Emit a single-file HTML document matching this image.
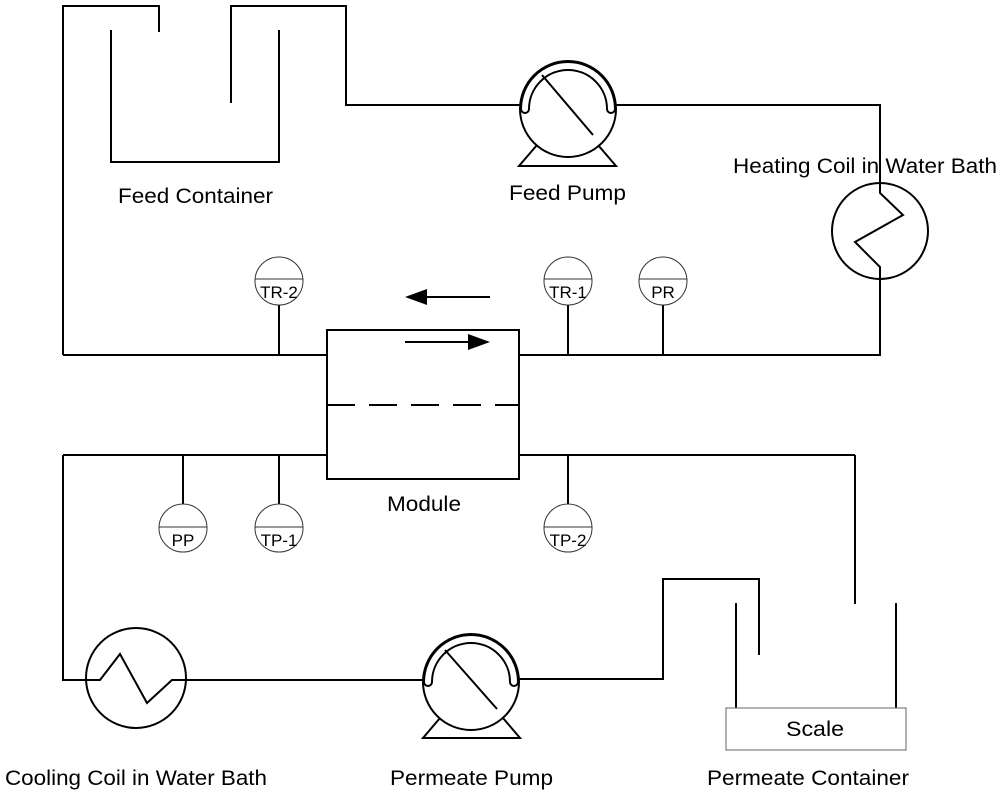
<!DOCTYPE html>
<html><head><meta charset="utf-8"><style>body{margin:0;background:#fff}svg{display:block}</style></head>
<body>
<svg width="1000" height="794" viewBox="0 0 1000 794" xmlns="http://www.w3.org/2000/svg">
<g fill="none" stroke="#000" stroke-width="2">
<polyline points="63,355 63,6 159,6 159,32"/>
<polyline points="111,30 111,162 279,162 279,30"/>
<polyline points="231,103 231,6 346,6 346,105 520,105"/>
<circle cx="568" cy="109" r="48"/>
<path d="M521,109 A47,47 0 0 1 615,109 A4,4 0 0 1 607,109 A39,39 0 0 0 529,109 A4,4 0 0 1 521,109 Z" />
<line x1="542" y1="75" x2="593" y2="135"/>
<polyline points="537,145 519,166 616,166 598,145"/>
<polyline points="616,105 880,105 880,193 903,215 855,242 880,267 880,355 519,355"/>
<circle cx="880" cy="231" r="48"/>
<rect x="327" y="330" width="192" height="149"/>
<line x1="327" y1="405" x2="519" y2="405" stroke-dasharray="28,14"/>
<line x1="63" y1="355" x2="327" y2="355"/>
<line x1="327" y1="455" x2="63" y2="455"/>
<line x1="519" y1="455" x2="855" y2="455"/>
<line x1="855" y1="455" x2="855" y2="604"/>
<line x1="425" y1="297" x2="490" y2="297"/>
<line x1="405" y1="342" x2="470" y2="342"/>
<polyline points="63,455 63,680 100,680 120,654 147,703 172,680 423,680"/>
<circle cx="136" cy="678" r="50"/>
<circle cx="471" cy="682" r="48"/>
<path d="M424,682 A47,47 0 0 1 518,682 A4,4 0 0 1 510,682 A39,39 0 0 0 432,682 A4,4 0 0 1 424,682 Z"/>
<line x1="445" y1="650" x2="497" y2="709"/>
<polyline points="440,718 423,738 520,738 503,718"/>
<polyline points="519,679 663,679 663,579 759,579 759,655"/>
<line x1="736" y1="603" x2="736" y2="708"/>
<line x1="896" y1="603" x2="896" y2="708"/>
<line x1="279" y1="305" x2="279" y2="355"/>
<line x1="568" y1="305" x2="568" y2="355"/>
<line x1="663" y1="305" x2="663" y2="355"/>
<line x1="183" y1="455" x2="183" y2="504"/>
<line x1="279" y1="455" x2="279" y2="504"/>
<line x1="568" y1="455" x2="568" y2="504"/>
</g>
<polygon points="405,297 427,289 427,305" fill="#000"/>
<polygon points="490,342 468,334 468,350" fill="#000"/>
<rect x="726" y="708" width="180" height="42" fill="#fff" stroke="#666" stroke-width="1"/>
<g fill="#fff" stroke="#333" stroke-width="1">
<circle cx="279" cy="281" r="24"/><circle cx="568" cy="281" r="24"/><circle cx="663" cy="281" r="24"/>
<circle cx="183" cy="528" r="24"/><circle cx="279" cy="528" r="24"/><circle cx="568" cy="528" r="24"/>
</g>
<g stroke="#333" stroke-width="1">
<line x1="255" y1="279" x2="303" y2="279"/><line x1="544" y1="279" x2="592" y2="279"/><line x1="639" y1="279" x2="687" y2="279"/>
<line x1="159" y1="527" x2="207" y2="527"/><line x1="255" y1="527" x2="303" y2="527"/><line x1="544" y1="527" x2="592" y2="527"/>
</g>
<g font-family="Liberation Sans, Arial, sans-serif" font-size="17" text-anchor="middle" fill="#000">
<text x="279" y="298">TR-2</text><text x="568" y="298">TR-1</text><text x="663" y="298">PR</text>
<text x="183" y="546">PP</text><text x="279" y="546">TP-1</text><text x="568" y="546">TP-2</text>
</g>
<g font-family="Liberation Sans, Arial, sans-serif" font-size="21" fill="#000" lengthAdjust="spacingAndGlyphs">
<text x="118" y="203" textLength="155" lengthAdjust="spacingAndGlyphs">Feed Container</text>
<text x="509" y="200" textLength="117" lengthAdjust="spacingAndGlyphs">Feed Pump</text>
<text x="733" y="173" textLength="264" lengthAdjust="spacingAndGlyphs">Heating Coil in Water Bath</text>
<text x="387" y="511" textLength="74" lengthAdjust="spacingAndGlyphs">Module</text>
<text x="5" y="785" textLength="262" lengthAdjust="spacingAndGlyphs">Cooling Coil in Water Bath</text>
<text x="390" y="785" textLength="163" lengthAdjust="spacingAndGlyphs">Permeate Pump</text>
<text x="707" y="785" textLength="202" lengthAdjust="spacingAndGlyphs">Permeate Container</text>
<text x="786" y="736" textLength="58" lengthAdjust="spacingAndGlyphs">Scale</text>
</g>
</svg>
</body></html>
